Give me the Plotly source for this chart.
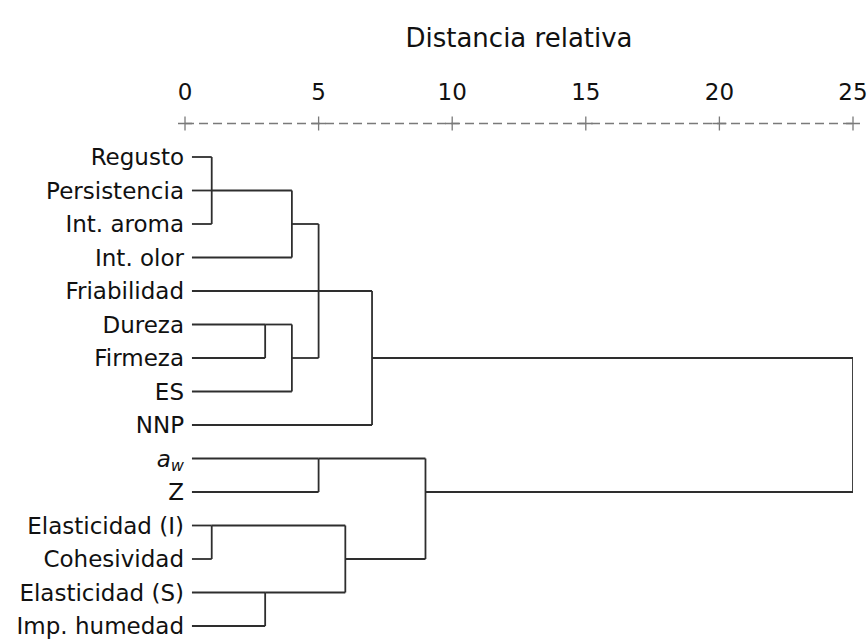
import math
import plotly.graph_objects as go

# Variables (leaves), top to bottom
labels = [
    "Regusto", "Persistencia", "Int. aroma", "Int. olor", "Friabilidad",
    "Dureza", "Firmeza", "ES", "NNP", "<i>a</i><sub><i>w</i></sub>", "Z",
    "Elasticidad (I)", "Cohesividad", "Elasticidad (S)", "Imp. humedad",
]

# Agglomeration schedule: new cluster k = 15 + i joins merge_a[i] and merge_b[i]
merge_a = [0, 11, 15, 5, 13, 17, 18, 9, 20, 23, 16, 24, 22, 26]
merge_b = [2, 12, 1, 6, 14, 3, 7, 10, 21, 4, 19, 8, 25, 27]
merge_dist = [1, 1, 1, 3, 3, 4, 4, 5, 5, 5, 6, 7, 9, 25]

# Rescaled distance axis
axis_ticks = [0, 5, 10, 15, 20, 25]

LEAF_START = 0.26
ROW_PX = 33.5
W, H = 868, 639
M_L, M_R, M_T, M_B = 185, 15, 108, 3
ROW0_PX = 157
TEXT = "#111111"

n = len(labels)
row = {i: i for i in range(n)}
xpos = {i: LEAF_START for i in range(n)}

xs, ys = [], []
for i, (a, b, d) in enumerate(zip(merge_a, merge_b, merge_dist)):
    k = n + i
    for c in (a, b):
        xs += [xpos[c], d, None]
        ys += [row[c], row[c], None]
    xs += [d, d, None]
    ys += [row[a], row[b], None]
    row[k] = math.floor((row[a] + row[b]) / 2)
    xpos[k] = d

plot_h = H - M_T - M_B
y_top = -(ROW0_PX - M_T) / ROW_PX
y_bot = y_top + plot_h / ROW_PX

fig = go.Figure()

# Dendrogram branches
fig.add_trace(go.Scatter(
    x=xs, y=ys, mode="lines",
    line=dict(color="#2e2e2e", width=1.8),
    hoverinfo="skip", showlegend=False, cliponaxis=False,
))

# Dashed scale line with "+" tick marks
fig.add_trace(go.Scatter(
    x=[axis_ticks[0], axis_ticks[-1]], y=[-1, -1], mode="lines",
    line=dict(color="#7a7a7a", width=1.3, dash="9px,5px"),
    hoverinfo="skip", showlegend=False, cliponaxis=False,
))
fig.add_trace(go.Scatter(
    x=axis_ticks, y=[-1] * len(axis_ticks), mode="markers",
    marker=dict(symbol="cross-thin", size=10, line=dict(color="#7a7a7a", width=1.3)),
    hoverinfo="skip", showlegend=False, cliponaxis=False,
))

fig.update_layout(
    width=W, height=H,
    margin=dict(l=M_L, r=M_R, t=M_T, b=M_B, autoexpand=False),
    paper_bgcolor="white", plot_bgcolor="white",
    font=dict(family="DejaVu Sans", size=23, color=TEXT),
    title=dict(
        text="Distancia relativa", x=0.5, xref="paper", xanchor="center",
        y=1 - 38 / H, yref="container", yanchor="middle",
        font=dict(family="DejaVu Sans", size=26, color=TEXT),
    ),
    xaxis=dict(
        side="top", range=[0, 25], tickvals=axis_ticks,
        ticktext=[str(t) for t in axis_ticks],
        ticks="", showgrid=False, zeroline=False, showline=False,
        ticklabelstandoff=2, ticklabeloverflow="allow",
        tickfont=dict(family="DejaVu Sans", size=23, color=TEXT),
        fixedrange=True,
    ),
    yaxis=dict(
        range=[y_bot, y_top], tickvals=list(range(n)), ticktext=labels,
        ticks="", showgrid=False, zeroline=False, showline=False,
        ticklabeloverflow="allow",
        tickfont=dict(family="DejaVu Sans", size=23, color=TEXT),
        fixedrange=True,
    ),
)

fig.write_html("out.html")
